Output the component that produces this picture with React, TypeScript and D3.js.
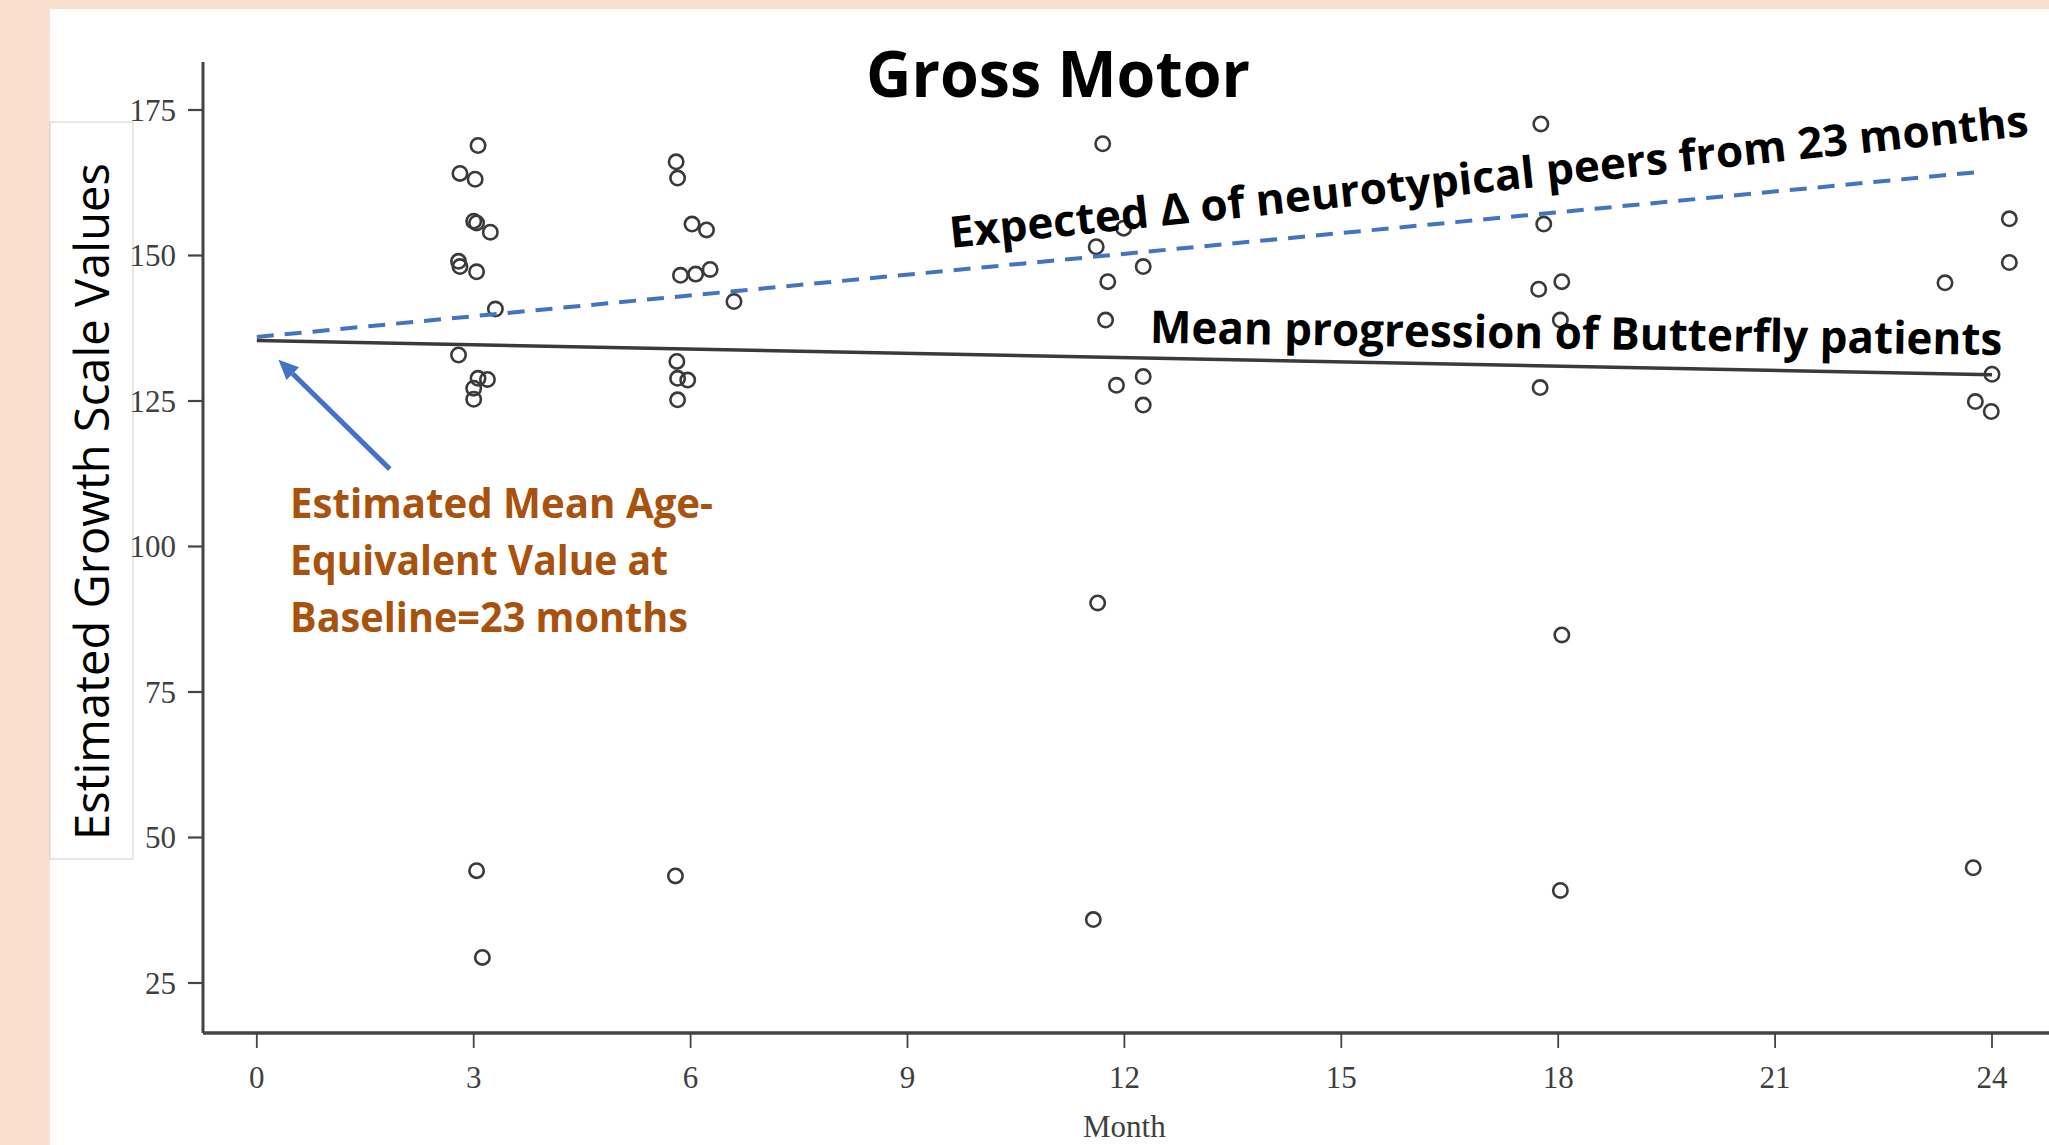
import React, { useEffect } from "react";
import * as d3 from "d3";

// ---------- data ----------
const monthTicks = [0, 3, 6, 9, 12, 15, 18, 21, 24];
const valueTicks = [25, 50, 75, 100, 125, 150, 175];

// jittered visit months and scale values of each observation
const pointMonths = [
  3.06, 2.81, 3.02, 3.04, 3.0, 3.23, 2.79, 2.81, 3.04, 3.3, 2.79, 3.06, 3.19, 3.0, 3.0, 3.04, 3.12,
  5.8, 5.82, 6.02, 6.22, 5.86, 6.07, 6.27, 6.6, 5.81, 5.82, 5.96, 5.82, 5.79,
  11.7, 11.99, 11.61, 12.26, 11.77, 11.74, 11.89, 12.26, 12.26, 11.63, 11.57,
  17.76, 17.8, 17.73, 18.05, 18.03, 17.75, 18.05, 18.03,
  23.35, 24.24, 24.24, 24.0, 23.77, 23.99, 23.74,
];
const pointValues = [
  168.9, 164.1, 163.1, 155.6, 155.9, 154.0, 149.0, 148.1, 147.2, 140.8, 132.9, 128.9, 128.7, 127.2, 125.3, 44.3, 29.4,
  166.1, 163.3, 155.4, 154.4, 146.6, 146.8, 147.6, 142.1, 131.8, 128.9, 128.6, 125.2, 43.4,
  169.2, 154.7, 151.5, 148.1, 145.5, 138.9, 127.7, 129.2, 124.3, 90.3, 35.9,
  172.6, 155.4, 144.2, 145.5, 138.9, 127.3, 84.8, 40.9,
  145.3, 156.3, 148.8, 129.6, 124.9, 123.2, 44.8,
];

const meanMonths = [0, 24];
const meanValues = [135.4, 129.5];
const expectedMonths = [0, 23.77];
const expectedValues = [136.0, 164.3];

const titleText = "Gross Motor";
const yLabelText = "Estimated Growth Scale Values";
const xLabelText = "Month";
const expectedLabel = "Expected \u0394 of neurotypical peers from 23 months";
const meanLabel = "Mean progression of Butterfly patients";
const baselineLabel = ["Estimated Mean Age-", "Equivalent Value at", "Baseline=23 months"];
// arrow annotation: [month, value] of tail and tip
const arrowTail = [1.84, 113.3];
const arrowTip = [0.3, 132.1];

// ---------- layout ----------
const W = 2049;
const H = 1145;
const PEACH = "#F9E0CE";
const AXIS = "#444444";
const BLUE = "#4472C4";
const BROWN = "#A9520E";
const BOLD_FONT = "'Open Sans', 'Noto Sans', sans-serif";
const SERIF = "'Liberation Serif', 'Times New Roman', serif";

export default function App() {
  useEffect(() => {
    document.body.style.margin = "0";
    document.body.style.overflow = "hidden";
  }, []);

  const x = d3.scaleLinear().domain([0, 24]).range([256.8, 1992]);
  const y = d3.scaleLinear().domain([25, 175]).range([983, 110]);

  const axisX = 203;
  const axisY = 1033;
  const axisTop = 62;

  const lineGen = d3
    .line<[number, number]>()
    .x((d) => x(d[0]))
    .y((d) => y(d[1]));
  const meanPath = lineGen(meanMonths.map((m, i) => [m, meanValues[i]] as [number, number]));
  const expPath = lineGen(expectedMonths.map((m, i) => [m, expectedValues[i]] as [number, number]));

  // arrow geometry
  const tx = x(arrowTail[0]), ty = y(arrowTail[1]);
  const hx = x(arrowTip[0]), hy = y(arrowTip[1]);
  const ang = Math.atan2(hy - ty, hx - tx);
  const headLen = 20, headW = 9;
  const bx = hx - headLen * Math.cos(ang), by = hy - headLen * Math.sin(ang);
  const head = [
    [hx, hy],
    [bx + headW * Math.sin(ang), by - headW * Math.cos(ang)],
    [bx - headW * Math.sin(ang), by + headW * Math.cos(ang)],
  ]
    .map((p) => p.join(","))
    .join(" ");

  // expected label placement (baseline start/end in data units)
  const e0 = [x(9.6), y(151.3)];
  const e1 = [x(24.52), y(170.6)];
  const eAng = (Math.atan2(e1[1] - e0[1], e1[0] - e0[0]) * 180) / Math.PI;
  const eLen = Math.hypot(e1[0] - e0[0], e1[1] - e0[1]);

  const m0 = [x(12.35), y(135.0)];
  const m1 = [x(24.14), y(132.9)];
  const mAng = (Math.atan2(m1[1] - m0[1], m1[0] - m0[0]) * 180) / Math.PI;
  const mLen = Math.hypot(m1[0] - m0[0], m1[1] - m0[1]);

  const bLeft = x(0.46);
  const bBase = [y(104.9), y(95.1), y(85.3)];
  const bLens = [423, 378, 398];

  return (
    <svg
      width={W}
      height={H}
      viewBox={`0 0 ${W} ${H}`}
      style={{ position: "absolute", left: 0, top: 0, display: "block" }}
    >
      <rect x={0} y={0} width={W} height={H} fill={PEACH} />
      <rect x={50} y={9} width={W - 50} height={H - 9} fill="#ffffff" />

      {/* y label box */}
      <rect x={50} y={122} width={83} height={737} fill="#ffffff" stroke="#cfcfcf" strokeWidth={1} />
      <text
        transform={`translate(109,${501.5}) rotate(-90)`}
        textAnchor="middle"
        fontFamily="'Open Sans', 'Noto Sans', sans-serif"
        fontSize={47}
        fill="#000"
        textLength={677}
        lengthAdjust="spacingAndGlyphs"
      >
        {yLabelText}
      </text>

      {/* axes */}
      <line x1={axisX} y1={axisTop} x2={axisX} y2={axisY} stroke={AXIS} strokeWidth={3} />
      <line x1={axisX} y1={axisY} x2={W} y2={axisY} stroke={AXIS} strokeWidth={3.5} />
      {valueTicks.map((v) => (
        <g key={`yt${v}`}>
          <line x1={axisX - 15} x2={axisX} y1={y(v)} y2={y(v)} stroke={AXIS} strokeWidth={2.2} />
          <text
            x={176}
            y={y(v)}
            dy="0.35em"
            textAnchor="end"
            fontFamily={SERIF}
            fontSize={31}
            fill="#3f3f3f"
          >
            {v}
          </text>
        </g>
      ))}
      {monthTicks.map((m) => (
        <g key={`xt${m}`}>
          <line x1={x(m)} x2={x(m)} y1={axisY} y2={axisY + 15} stroke={AXIS} strokeWidth={1.8} />
          <text x={x(m)} y={1088} textAnchor="middle" fontFamily={SERIF} fontSize={31} fill="#3f3f3f">
            {m}
          </text>
        </g>
      ))}
      <text x={x(12)} y={1137} textAnchor="middle" fontFamily={SERIF} fontSize={31} fill="#3f3f3f">
        {xLabelText}
      </text>

      {/* points */}
      {pointMonths.map((m, i) => (
        <circle
          key={`p${i}`}
          cx={x(m)}
          cy={y(pointValues[i])}
          r={7.2}
          fill="none"
          stroke="#3a3a3a"
          strokeWidth={2.6}
        />
      ))}

      {/* lines */}
      <path d={meanPath || ""} fill="none" stroke="#3a3a3a" strokeWidth={3.5} />
      <path d={expPath || ""} fill="none" stroke={BLUE} strokeWidth={4} strokeDasharray="17 11" />

      {/* title */}
      <text
        x={1058}
        y={97}
        textAnchor="middle"
        fontFamily={BOLD_FONT}
        fontWeight={700}
        fontSize={64}
        fill="#000"
        textLength={384}
        lengthAdjust="spacingAndGlyphs"
      >
        {titleText}
      </text>

      {/* expected label */}
      <text
        transform={`translate(${e0[0]},${e0[1]}) rotate(${eAng})`}
        fontFamily={BOLD_FONT}
        fontWeight={700}
        fontSize={43.5}
        fill="#000"
        textLength={eLen}
        lengthAdjust="spacingAndGlyphs"
      >
        {expectedLabel}
      </text>

      {/* mean label */}
      <text
        transform={`translate(${m0[0]},${m0[1]}) rotate(${mAng})`}
        fontFamily={BOLD_FONT}
        fontWeight={700}
        fontSize={45}
        fill="#000"
        textLength={mLen}
        lengthAdjust="spacingAndGlyphs"
      >
        {meanLabel}
      </text>

      {/* baseline annotation */}
      {baselineLabel.map((t, i) => (
        <text
          key={`b${i}`}
          x={bLeft}
          y={bBase[i]}
          fontFamily={BOLD_FONT}
          fontWeight={700}
          fontSize={41}
          fill={BROWN}
          textLength={bLens[i]}
          lengthAdjust="spacingAndGlyphs"
        >
          {t}
        </text>
      ))}

      {/* arrow */}
      <line x1={tx} y1={ty} x2={bx} y2={by} stroke={BLUE} strokeWidth={5} />
      <polygon points={head} fill={BLUE} />
    </svg>
  );
}
